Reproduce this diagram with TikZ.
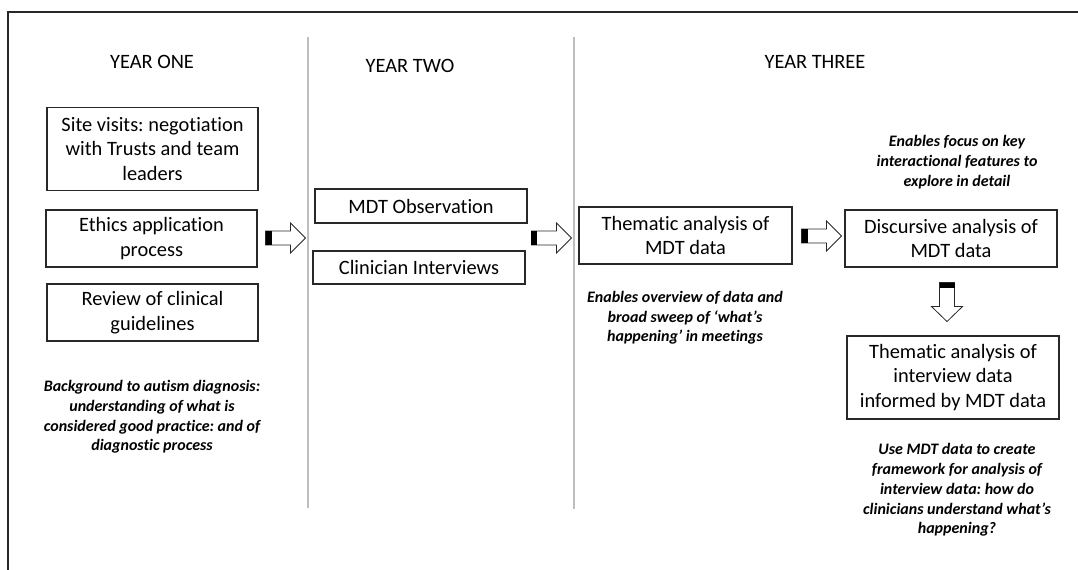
\documentclass[tikz,border=0pt]{standalone}
\usepackage{fontspec}
\setmainfont{Carlito}[Ligatures=NoCommon]
\frenchspacing
\usetikzlibrary{calc}

\definecolor{edge}{RGB}{40,40,40}
\definecolor{divider}{RGB}{190,190,190}

\tikzset{
  stage/.style={draw=edge, line width=0.8pt, align=center, inner sep=0pt,
    font=\fontsize{15.3}{18.5}\selectfont},
  heading/.style={font=\fontsize{15.3}{18.5}\selectfont},
  note/.style={align=center, inner sep=0pt,
    font=\fontsize{12}{14.8}\selectfont\bfseries\itshape},
  % block arrow pointing right, tail at the pic origin
  rarrow/.pic={
    \draw[edge, line width=0.6pt, fill=white]
      (0,-7) -- (25,-7) -- (25,-15) -- (40,0) -- (25,15) -- (25,7) -- (0,7) -- cycle;
    \fill[black] (0,-7) rectangle (6,7);
  },
  % block arrow pointing down, tail at the pic origin
  darrow/.pic={
    \draw[edge, line width=0.6pt, fill=white]
      (-7.5,0) -- (-7.5,24) -- (-15.5,24) -- (0,39) -- (15.5,24) -- (7.5,24) -- (7.5,0) -- cycle;
    \fill[black] (-7.5,0) rectangle (7.5,5);
  }
}

\begin{document}
\begin{tikzpicture}[x=0.75pt, y=-0.75pt]
\useasboundingbox (0,0) rectangle (1078,570);

% frame and column dividers
\draw[edge, line width=0.8pt] (1078,12) -- (8,12) -- (8,570);
\draw[divider, line width=0.8pt] (308,37) -- (308,508);
\draw[divider, line width=0.8pt] (574,37) -- (574,509);

% column headings
\node[heading] (h1) at (152,62) {YEAR ONE};
\node[heading] (h2) at (410,66) {YEAR TWO};
\node[heading] (h3) at (815,62) {YEAR THREE};

% year one
\node[stage, minimum width=158.25pt, minimum height=62.25pt] (site) at (152.5,149)
  {Site visits: negotiation\\with Trusts and team\\leaders};
\node[stage, minimum width=158.25pt, minimum height=42.75pt] (ethics) at (151.5,238.5)
  {Ethics application\\process};
\node[stage, minimum width=158.25pt, minimum height=42.75pt] (review) at (152.5,312.5)
  {Review of clinical\\guidelines};
\node[note] (n1) at (152,417)
  {Background to autism diagnosis:\\understanding of what is\\considered good practice: and of\\diagnostic process};

% year two
\node[stage, minimum width=159pt, minimum height=25.5pt] (obs) at (421,206) {MDT Observation};
\node[stage, minimum width=159pt, minimum height=24.75pt] (interv) at (419,267.5) {Clinician Interviews};

% year three
\node[stage, minimum width=159.75pt, minimum height=42.75pt] (thema) at (685.5,235.5)
  {Thematic analysis of\\MDT data};
\node[note] (n2) at (685,318)
  {Enables overview of data and\\broad sweep of ‘what’s\\happening’ in meetings};
\node[stage, minimum width=159pt, minimum height=42.75pt] (disc) at (951,238.5)
  {Discursive analysis of\\MDT data};
\node[note] (n3) at (957,162)
  {Enables focus on key\\interactional features to\\explore in detail};
\node[stage, minimum width=159pt, minimum height=62.25pt] (themi) at (953,377.5)
  {Thematic analysis of\\interview data\\informed by MDT data};
\node[note] (n4) at (957,490)
  {Use MDT data to create\\framework for analysis of\\interview data: how do\\clinicians understand what’s\\happening?};

% block arrows between stages
\pic at ($(ethics.east)+(8,-0.5)$) {rarrow};
\pic at ($(thema.west)+(-47,2.5)$) {rarrow};
\pic at ($(thema.east)+(9,0.5)$) {rarrow};
\pic at ($(disc.south)+(-4,15)$) {darrow};
\end{tikzpicture}
\end{document}
